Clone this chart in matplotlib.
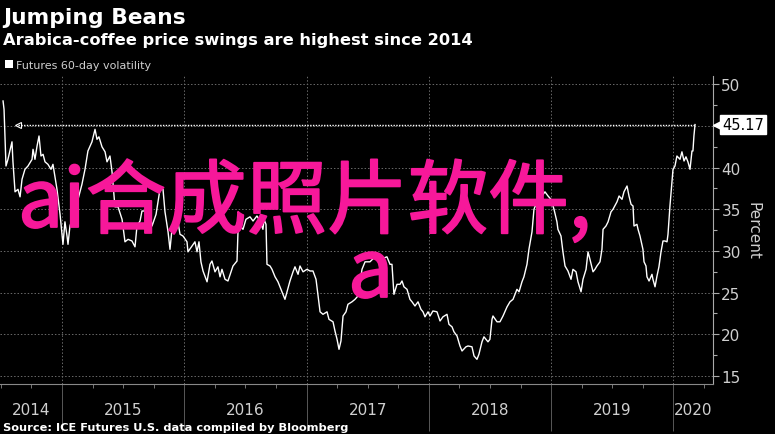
import numpy as np
import matplotlib
matplotlib.use("Agg")
import matplotlib.pyplot as plt
import matplotlib.patheffects as pe
from matplotlib.patches import Rectangle
from matplotlib.ticker import MultipleLocator, FixedLocator, NullFormatter
import matplotlib.transforms as mtransforms

# decimal years and 60-day volatility (percent)
years_a = [2014.518, 2014.526, 2014.542, 2014.558, 2014.591, 2014.599, 2014.616, 2014.640, 2014.657, 2014.673,
           2014.697, 2014.722, 2014.755, 2014.763, 2014.779, 2014.796, 2014.812, 2014.828, 2014.845, 2014.861,
           2014.885, 2014.910, 2014.926, 2014.959, 2014.984, 2015.008, 2015.024, 2015.041, 2015.049, 2015.065,
           2015.090, 2015.131, 2015.163, 2015.188, 2015.212, 2015.245, 2015.270, 2015.286, 2015.302, 2015.327,
           2015.352, 2015.368, 2015.392, 2015.409, 2015.433, 2015.458, 2015.491, 2015.515, 2015.540, 2015.572,
           2015.597, 2015.613, 2015.638, 2015.654, 2015.695, 2015.720, 2015.736, 2015.769, 2015.801, 2015.826,
           2015.842, 2015.867, 2015.883, 2015.899, 2015.924, 2015.948, 2015.965, 2015.989, 2016.022, 2016.030,
           2016.063, 2016.087, 2016.104, 2016.120, 2016.136, 2016.153, 2016.186, 2016.194, 2016.210, 2016.226,
           2016.251, 2016.275, 2016.292, 2016.308, 2016.333, 2016.357, 2016.382, 2016.398, 2016.431, 2016.439,
           2016.455, 2016.480, 2016.504, 2016.537, 2016.562, 2016.594, 2016.619, 2016.643, 2016.652, 2016.668,
           2016.676, 2016.701, 2016.717, 2016.742, 2016.766, 2016.799, 2016.823, 2016.840, 2016.864, 2016.889,
           2016.905, 2016.930, 2016.946, 2016.971, 2017.003, 2017.028, 2017.052, 2017.077, 2017.110, 2017.134,
           2017.167, 2017.183, 2017.216, 2017.232, 2017.249, 2017.265, 2017.281, 2017.298, 2017.322, 2017.338,
           2017.371, 2017.396, 2017.420, 2017.453, 2017.478, 2017.518, 2017.559, 2017.600]
vol_a = [48.0, 47.0, 40.2, 41.0, 43.1, 40.7, 37.1, 37.4, 36.5, 38.6,
         39.8, 40.2, 41.0, 42.2, 41.0, 42.6, 43.8, 41.4, 41.6, 40.7,
         40.4, 39.8, 40.4, 37.4, 34.4, 30.8, 33.5, 31.8, 30.8, 33.0,
         34.2, 36.2, 38.0, 39.8, 42.0, 43.1, 44.6, 43.4, 43.7, 42.5,
         41.9, 40.7, 41.4, 39.5, 35.3, 35.3, 33.8, 31.1, 31.4, 31.2,
         30.5, 33.0, 33.6, 34.8, 34.8, 34.4, 33.0, 34.4, 37.4, 37.4,
         34.7, 32.3, 30.2, 32.6, 33.0, 33.5, 32.0, 31.8, 31.1, 29.9,
         30.6, 31.1, 29.9, 31.1, 28.7, 27.6, 26.3, 27.0, 28.4, 28.8,
         27.5, 28.1, 26.9, 27.8, 26.6, 26.4, 27.5, 28.2, 28.8, 32.3,
         33.0, 32.6, 33.8, 34.1, 33.6, 34.2, 33.6, 32.6, 33.8, 33.2,
         28.4, 28.2, 27.8, 26.9, 26.3, 25.1, 24.2, 25.1, 26.4, 27.5,
         28.1, 27.2, 28.2, 27.5, 27.8, 27.6, 27.6, 26.6, 22.7, 22.4,
         22.7, 21.8, 21.5, 20.4, 19.4, 18.2, 19.2, 22.2, 22.7, 23.6,
         23.9, 24.2, 24.6, 27.8, 28.7, 28.7, 29.3, 29.0]

years_b = [2017.657, 2017.682, 2017.698, 2017.714, 2017.739, 2017.764, 2017.780, 2017.796, 2017.821, 2017.845,
           2017.862, 2017.886, 2017.911, 2017.935, 2017.952, 2017.968, 2017.993, 2018.009, 2018.033, 2018.066,
           2018.091, 2018.115, 2018.148, 2018.164, 2018.189, 2018.205, 2018.230, 2018.254, 2018.271, 2018.303,
           2018.320, 2018.352, 2018.369, 2018.393, 2018.409, 2018.434, 2018.450, 2018.483, 2018.499, 2018.516,
           2018.524, 2018.557, 2018.581, 2018.606, 2018.639, 2018.663, 2018.688, 2018.720, 2018.737, 2018.761,
           2018.777, 2018.802, 2018.818, 2018.843, 2018.859, 2018.884, 2018.900, 2018.925, 2018.949, 2018.974,
           2018.998, 2019.023, 2019.047, 2019.055, 2019.080, 2019.096, 2019.113, 2019.137, 2019.162, 2019.178,
           2019.203, 2019.219, 2019.244, 2019.260, 2019.285, 2019.301, 2019.317, 2019.342, 2019.358, 2019.374,
           2019.399, 2019.415, 2019.424, 2019.448, 2019.465, 2019.489, 2019.505, 2019.538, 2019.555, 2019.579,
           2019.595, 2019.620, 2019.636, 2019.653, 2019.669, 2019.677, 2019.701, 2019.710, 2019.726, 2019.750,
           2019.759, 2019.775, 2019.783, 2019.800, 2019.824, 2019.832, 2019.849, 2019.865, 2019.881, 2019.898,
           2019.914, 2019.930, 2019.947, 2019.955, 2019.971, 2019.988, 2019.996, 2020.012, 2020.028, 2020.053,
           2020.069, 2020.086, 2020.102, 2020.118, 2020.135, 2020.151, 2020.159, 2020.167, 2020.176]
vol_b = [29.3, 28.4, 28.4, 24.8, 26.0, 26.0, 26.4, 25.7, 25.4, 24.2,
         23.9, 23.4, 23.9, 23.0, 22.7, 22.1, 22.7, 22.2, 22.8, 22.7,
         21.6, 22.1, 22.4, 21.2, 20.9, 20.3, 19.8, 18.6, 18.0, 18.5,
         18.6, 18.5, 17.4, 17.0, 17.6, 19.1, 19.7, 19.1, 19.4, 21.8,
         22.2, 21.5, 21.5, 22.2, 23.3, 23.9, 24.2, 25.4, 25.1, 26.3,
         26.9, 28.4, 30.2, 32.3, 35.0, 35.9, 36.5, 36.6, 37.1, 36.6,
         36.2, 35.0, 33.5, 32.6, 31.8, 29.9, 28.2, 27.6, 26.6, 27.8,
         27.5, 26.3, 25.1, 26.6, 27.8, 29.9, 29.0, 27.5, 27.8, 28.2,
         28.7, 30.2, 32.6, 33.0, 33.5, 34.7, 35.0, 35.9, 36.6, 36.2,
         37.1, 37.8, 36.6, 35.6, 35.4, 33.0, 33.2, 32.6, 31.8, 30.2,
         28.7, 28.2, 26.9, 26.4, 27.2, 26.6, 25.7, 27.0, 28.1, 29.9,
         31.2, 31.2, 31.1, 32.0, 35.4, 38.3, 39.8, 40.2, 41.4, 41.0,
         41.9, 40.8, 41.3, 40.7, 39.8, 42.0, 42.0, 43.8, 45.17]

years = np.array(years_a + years_b)
vol = np.array(vol_a + vol_b)

last_value = 45.17
prev_level_year = 2014.64
y_ticks = [15, 20, 25, 30, 35, 40, 45, 50]
y_tick_labels = ["15", "20", "25", "30", "35", "40", "", "50"]
year_labels = ["2014", "2015", "2016", "2017", "2018", "2019", "2020"]
x_start, x_end = 2014.493, 2020.323

narrow = ["Liberation Sans Narrow", "DejaVu Sans"]
grey = "#cfcfcf"

fig = plt.figure(figsize=(7.75, 4.35), dpi=100, facecolor="black")
ax = fig.add_axes([0.0, 0.115, 0.92, 0.708], facecolor="black")

ax.plot(years, vol, color="white", lw=1.0, zorder=3)

# dotted line back to the last time volatility was this high
ax.plot([prev_level_year, years[-1]], [last_value, last_value], color="white", lw=1.0,
        ls=(0, (1, 1)), zorder=2)
ax.plot([prev_level_year], [last_value], marker="<", color="white", ms=4, mfc="none", mew=0.8, zorder=2)

ax.set_xlim(x_start, x_end)
ax.set_ylim(14.04, 51.0)

# right axis
ax.yaxis.tick_right()
ax.yaxis.set_label_position("right")
ax.set_yticks(y_ticks)
ax.set_yticklabels(y_tick_labels)
ax.yaxis.set_minor_locator(MultipleLocator(2.5))
ax.tick_params(axis="y", which="both", colors="#aaaaaa", labelcolor=grey, direction="out")
ax.tick_params(axis="y", which="major", length=4, width=0.8, labelsize=11, pad=2)
ax.tick_params(axis="y", which="minor", length=3, width=0.8)
for lab in ax.get_yticklabels():
    lab.set_family(narrow)
ax.set_ylabel("Percent", color=grey, fontsize=11, rotation=270, labelpad=14, family=narrow)

# bottom axis: long separators at year starts, small quarterly ticks
year_starts = [2015, 2016, 2017, 2018, 2019, 2020]
ax.xaxis.set_major_locator(FixedLocator(year_starts))
ax.xaxis.set_minor_locator(FixedLocator([y + q / 4 for y in range(2014, 2021) for q in range(4)
                                         if x_start < y + q / 4 < x_end and q != 0]))
ax.xaxis.set_major_formatter(NullFormatter())
ax.tick_params(axis="x", which="major", length=34, width=0.6, color="#666666", direction="out")
ax.tick_params(axis="x", which="minor", length=3, width=0.6, color="#888888", direction="out")

label_pos = [(x_start + 2015) / 2] + [y + 0.5 for y in range(2015, 2020)] + [(2020 + x_end) / 2]
trans = mtransforms.blended_transform_factory(ax.transData, ax.transAxes)
for xp, lab in zip(label_pos, year_labels):
    ax.text(xp, -0.082, lab, transform=trans, ha="center", va="center", color=grey,
            fontsize=11, family=narrow)

ax.grid(True, which="major", color="#6a6a6a", ls=(0, (1.5, 2)), lw=0.7)

for side in ["left", "top"]:
    ax.spines[side].set_visible(False)
ax.spines["right"].set_color("#aaaaaa")
ax.spines["bottom"].set_color("#888888")

# last value tag
tag_trans = mtransforms.blended_transform_factory(ax.transAxes, ax.transData)
ax.plot([1.006], [last_value], marker="<", color="white", ms=6, transform=tag_trans,
        clip_on=False, zorder=5)
ax.annotate(f"{last_value:.2f}", xy=(1.0, last_value), xycoords=("axes fraction", "data"),
            xytext=(6.5, 0), textcoords="offset points", ha="left", va="center", fontsize=10.5,
            family=narrow, color="black", zorder=6, annotation_clip=False,
            bbox=dict(boxstyle="square,pad=0.12", fc="white", ec="white"))

# titles
fig.text(0.004, 1 - 24 / 435, "Jumping Beans", color="white", fontsize=15.7, fontweight="bold", va="baseline")
fig.text(0.004, 1 - 45 / 435, "Arabica-coffee price swings are highest since 2014", color="white",
         fontsize=11.7, fontweight="bold", va="baseline")
fig.patches.append(Rectangle((5 / 775, 1 - 69 / 435), 8 / 775, 8 / 435, transform=fig.transFigure,
                             facecolor="white", edgecolor="none"))
fig.text(16 / 775, 1 - 69 / 435, "Futures 60-day volatility", color=grey, fontsize=8,
         family=narrow, va="baseline")
fig.text(0.004, 1 - 431 / 435, "Source: ICE Futures U.S. data compiled by Bloomberg", color="white",
         fontsize=8.2, fontweight="bold", va="baseline")

# overlaid watermark text
pink = "#f7189a"
thick = [pe.withStroke(linewidth=1.3, foreground=pink)]
fig.text(18 / 775, 1 - 228 / 435, "ai合成照片软件,", color=pink, fontsize=58,
         family=["Noto Sans CJK SC", "DejaVu Sans"], va="baseline", zorder=10, path_effects=thick)
fig.text(348 / 775, 1 - 298 / 435, "a", color=pink, fontsize=58,
         family=["Noto Sans CJK SC", "DejaVu Sans"], va="baseline", zorder=10, path_effects=thick)

fig.savefig("out.png", dpi=100, facecolor="black")
